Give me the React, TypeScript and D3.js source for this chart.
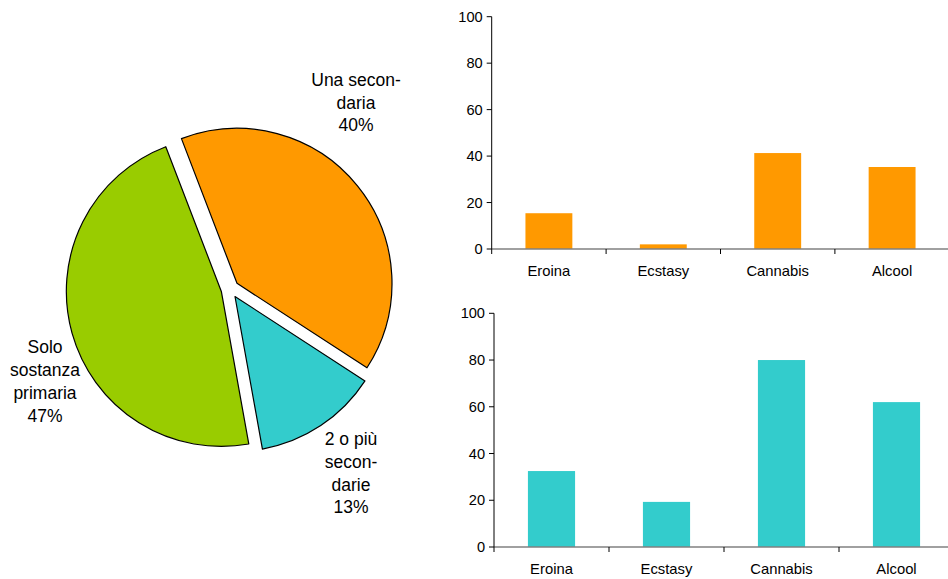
import React from "react";
import * as d3 from "d3";

const pieLabels = [
  ["Una secon-", "daria", "40%"],
  ["2 o più", "secon-", "darie", "13%"],
  ["Solo", "sostanza", "primaria", "47%"],
];
const pieValues = [40, 13, 47];
const pieColors = ["#FF9900", "#33CCCC", "#99CC00"];

const categories = ["Eroina", "Ecstasy", "Cannabis", "Alcool"];
const topValues = [15.4, 2.0, 41.3, 35.3];
const bottomValues = [32.5, 19.3, 80.0, 62.0];
const yTicks = [0, 20, 40, 60, 80, 100];

const FONT = "'Liberation Sans', Arial, sans-serif";

function BarChart({ values, color, x0, x1, yTop, yBottom, labelY }: any) {
  const x = d3.scaleBand<string>().domain(categories).range([x0, x1]).paddingInner(0).paddingOuter(0);
  const y = d3.scaleLinear().domain([0, 100]).range([yBottom, yTop]);
  const bw = x.bandwidth() * 0.41;
  const boundaries = d3.range(categories.length + 1).map((i) => x0 + i * x.step());
  return (
    <g>
      {values.map((v: number, i: number) => {
        const cx = (x(categories[i]) as number) + x.bandwidth() / 2;
        return (
          <rect key={i} x={cx - bw / 2} y={y(v)} width={bw} height={y(0) - y(v)} fill={color} />
        );
      })}
      <line x1={x0} x2={x1} y1={y(0)} y2={y(0)} stroke="#808080" strokeWidth={1.5} />
      {boundaries.map((b, i) => (
        <line key={i} x1={b} x2={b} y1={y(0)} y2={y(0) + 5} stroke="#000" strokeWidth={1} />
      ))}
      <line x1={x0} x2={x0} y1={y(100)} y2={y(0)} stroke="#000" strokeWidth={1} />
      {yTicks.map((t) => (
        <g key={t}>
          <line x1={x0 - 5} x2={x0} y1={y(t)} y2={y(t)} stroke="#000" strokeWidth={1} />
          <text x={x0 - 9} y={y(t)} dy="0.35em" textAnchor="end" fontSize={14.6} fontFamily={FONT} fill="#000">
            {t}
          </text>
        </g>
      ))}
      {categories.map((c) => (
        <text
          key={c}
          x={(x(c) as number) + x.bandwidth() / 2}
          y={labelY}
          textAnchor="middle"
          fontSize={14.8}
          fontFamily={FONT}
          fill="#000"
        >
          {c}
        </text>
      ))}
    </g>
  );
}

export default function App() {
  const cx = 230;
  const cy = 289;
  const r = 155;
  const explode = 9;
  const pie = d3
    .pie<number>()
    .sort(null)
    .startAngle((-21 * Math.PI) / 180)
    .endAngle((-21 * Math.PI) / 180 + 2 * Math.PI);
  const arcs = pie(pieValues);
  const arc = d3.arc<d3.PieArcDatum<number>>().innerRadius(0).outerRadius(r);

  const labelPos = [
    { x: 356, y: 85.7 },
    { x: 351, y: 445 },
    { x: 45, y: 353.3 },
  ];
  const lh = 22.8;

  return (
    <svg width={948} height={579} style={{ position: "absolute", left: 0, top: 0, background: "#fff" }}>
      <rect width={948} height={579} fill="#fff" />
      {arcs.map((a, i) => {
        const mid = (a.startAngle + a.endAngle) / 2;
        const dx = Math.sin(mid) * explode;
        const dy = -Math.cos(mid) * explode;
        return (
          <path
            key={i}
            d={arc(a) as string}
            transform={`translate(${cx + dx},${cy + dy})`}
            fill={pieColors[i]}
            stroke="#000"
            strokeWidth={1.2}
            strokeLinejoin="round"
          />
        );
      })}
      {pieLabels.map((lines, i) => (
        <text key={i} textAnchor="middle" fontSize={17.5} fontFamily={FONT} fill="#000">
          {lines.map((l, j) => (
            <tspan key={j} x={labelPos[i].x} y={labelPos[i].y + j * lh}>
              {l}
            </tspan>
          ))}
        </text>
      ))}
      <BarChart values={topValues} color="#FF9900" x0={491.7} x1={949.3} yTop={16.7} yBottom={249} labelY={276} />
      <BarChart values={bottomValues} color="#33CCCC" x0={494} x1={954} yTop={313.3} yBottom={547} labelY={574} />
    </svg>
  );
}
